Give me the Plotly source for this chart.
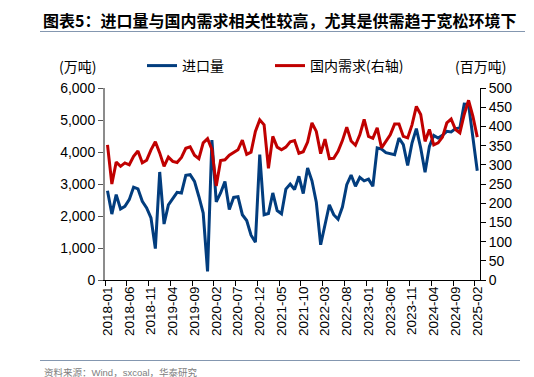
import plotly.graph_objects as go

months = [f"{y}-{m:02d}" for y in range(2018, 2026) for m in range(1, 13)][:86]

imports = [2790, 2060, 2670, 2220, 2300, 2510, 2900, 2850, 2460, 2250, 1940, 980,
           3375, 1750, 2350, 2560, 2740, 2720, 3270, 3290, 3080, 2610, 2090, 270,
           4370, 2440, 2720, 3080, 2200, 2580, 2600, 2040, 1860, 1400, 1180, 3917,
           2040, 2080, 2720, 2170, 2070, 2840, 3000, 2830, 3240, 2700, 3500, 3100,
           2430, 1100, 1730, 2350, 2040, 1900, 2280, 2980, 3280, 2930, 3210, 3100,
           3150, 2930, 4125, 4090, 3980, 3937, 3917, 4437, 4230, 3583, 4280, 4730,
           4125, 3365, 4177, 4520, 4437, 4520, 4646, 4625, 4730, 4750, 5500, 5490,
           4490, 3416]

demand = [352, 250, 307, 296, 305, 300, 322, 336, 305, 312, 339, 360,
          331, 296, 320, 309, 306, 319, 343, 347, 325, 316, 357, 368,
          340, 245, 311, 313, 325, 331, 339, 364, 327, 333, 387, 417,
          404, 291, 374, 346, 339, 346, 360, 363, 330, 334, 359, 409,
          387, 329, 367, 316, 317, 335, 363, 398, 362, 351, 378, 418,
          374, 369, 396, 344, 360, 378, 406, 406, 374, 370, 404, 452,
          431, 361, 392, 352, 357, 372, 409, 419, 392, 383, 431, 468,
          426, 372]

tick_labels = ["2018-01", "2018-06", "2018-11", "2019-04", "2019-09", "2020-02",
               "2020-07", "2020-12", "2021-05", "2021-10", "2022-03", "2022-08",
               "2023-01", "2023-06", "2023-11", "2024-04", "2024-09", "2025-02"]

x_idx = list(range(len(months)))
tick_pos = [months.index(t) for t in tick_labels]

BLUE = "#023d7e"
RED = "#c00000"
CJK = "Liberation Sans, Noto Sans CJK SC, sans-serif"

L, R, T, B = 97, 62, 80, 105
W, H = 534, 377
pw, ph = W - L - R, H - T - B


def px(x):
    return (x - L) / pw


def py(y):
    return (H - B - y) / ph


fig = go.Figure()
fig.add_trace(go.Scatter(x=x_idx, y=imports, name="进口量", mode="lines",
                         line=dict(color=BLUE, width=3), legend="legend"))
fig.add_trace(go.Scatter(x=x_idx, y=demand, name="国内需求(右轴)", mode="lines",
                         line=dict(color=RED, width=3), yaxis="y2", legend="legend2"))

legend_common = dict(orientation="h", xanchor="left", yanchor="middle",
                     bgcolor="rgba(0,0,0,0)", font=dict(family="Noto Sans CJK SC", size=14),
                     itemwidth=30)

fig.update_layout(
    width=W, height=H,
    margin=dict(l=L, r=R, t=T, b=B, pad=0),
    paper_bgcolor="white", plot_bgcolor="white",
    font=dict(family=CJK, size=14, color="black"),
    title=dict(text="<b>图表5：进口量与国内需求相关性较高，尤其是供需趋于宽松环境下</b>",
               x=35 / W, xref="container", xanchor="left",
               y=1 - 13 / H, yref="container", yanchor="middle",
               font=dict(family="Noto Sans CJK SC", size=16, color="black")),
    showlegend=True,
    legend=dict(x=px(134), y=py(58), **legend_common),
    legend2=dict(x=px(262), y=py(58), **legend_common),
    xaxis=dict(range=[-0.575, 85.63], tickmode="array", tickvals=tick_pos,
               ticktext=tick_labels, tickangle=-90, ticks="", showgrid=False,
               showline=True, linecolor="black", linewidth=1, zeroline=False,
               tickfont=dict(family="Liberation Sans", size=13.5),
               minor=dict(tickmode="linear", tick0=-0.575, dtick=5, ticks="outside",
                          ticklen=5, tickcolor="black", showgrid=False)),
    yaxis=dict(range=[0, 6000], dtick=1000, tickformat=",", showgrid=False,
               showline=True, linecolor="#8c8c8c", linewidth=2, ticks="outside",
               ticklen=5, tickcolor="#555555", zeroline=False,
               tickfont=dict(family="Liberation Sans", size=14)),
    yaxis2=dict(range=[0, 500], dtick=50, overlaying="y", side="right",
                showgrid=False, showline=True, linecolor="black", linewidth=1,
                ticks="outside", ticklen=5, tickcolor="black", zeroline=False,
                tickfont=dict(family="Liberation Sans", size=14)),
    shapes=[
        dict(type="line", xref="paper", yref="paper", x0=px(32), x1=px(517),
             y0=py(23.5), y1=py(23.5), line=dict(color="#8497b0", width=1.2)),
        dict(type="line", xref="paper", yref="paper", x0=px(32), x1=px(512),
             y0=py(352.5), y1=py(352.5), line=dict(color="#8497b0", width=1.2)),
    ],
    annotations=[
        dict(text="(万吨)", xref="paper", yref="paper", x=px(69), y=py(58),
             xanchor="center", yanchor="middle", showarrow=False,
             font=dict(family="Noto Sans CJK SC", size=14)),
        dict(text="(百万吨)", xref="paper", yref="paper", x=px(472), y=py(58),
             xanchor="center", yanchor="middle", showarrow=False,
             font=dict(family="Noto Sans CJK SC", size=14)),
        dict(text="资料来源：Wind，sxcoal，华泰研究", xref="paper", yref="paper",
             x=px(34), y=py(364), xanchor="left", yanchor="middle", showarrow=False,
             font=dict(family=CJK, size=9.5, color="#808080")),
    ],
)

fig.write_html("out.html")
